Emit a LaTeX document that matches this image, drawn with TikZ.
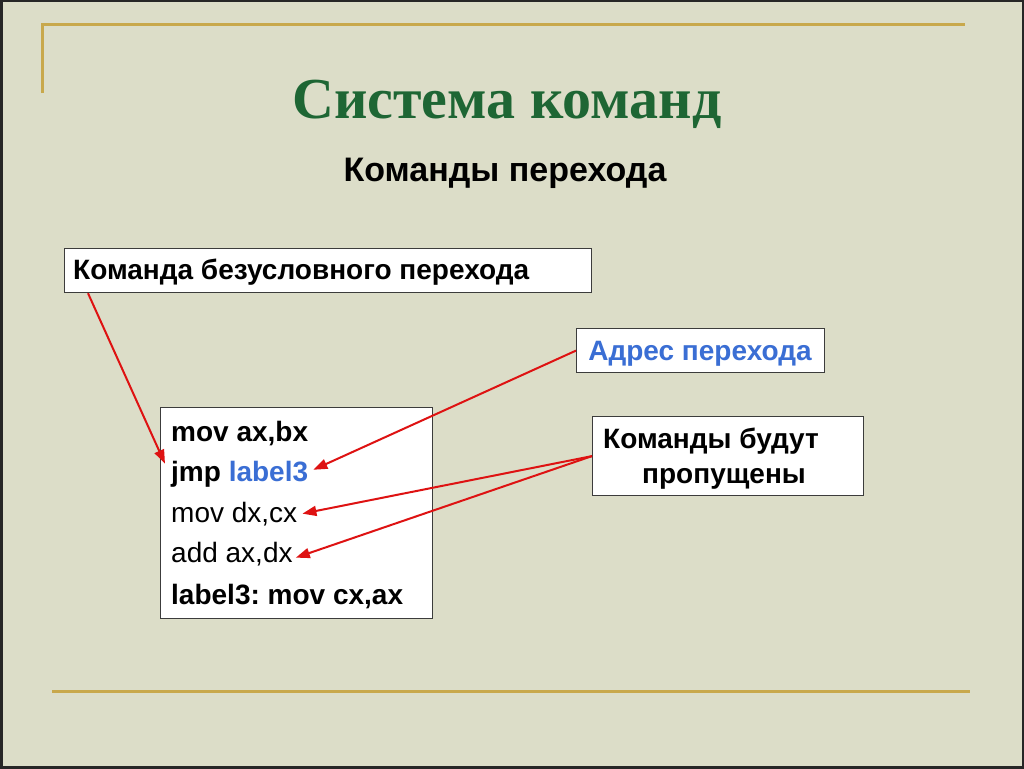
\documentclass[tikz,border=0pt]{standalone}
\usepackage{fontspec}
\setmainfont{Liberation Serif}
\setsansfont{Liberation Sans}
\usepackage{xcolor}
\usetikzlibrary{arrows.meta,positioning,calc}
\definecolor{slidebg}{RGB}{220,221,200}
\definecolor{goldline}{RGB}{200,168,76}
\definecolor{titlegreen}{RGB}{30,102,52}
\definecolor{addrblue}{RGB}{58,110,212}
\definecolor{arrowred}{RGB}{222,18,18}
\definecolor{boxline}{RGB}{60,60,60}
\frenchspacing
\tikzset{
  txt/.style = {font = \sffamily\fontsize{28}{33}\selectfont, inner sep = 0pt},
  boldtxt/.style = {txt, font = \sffamily\bfseries\fontsize{28}{33}\selectfont},
  box/.style = {draw = boxline, fill = white, line width = 1.2pt, inner sep = 0pt},
  jump/.style = {draw = arrowred, line width = 2pt, -{Triangle[length=14pt, width=10pt]}}
}

\begin{document}
\begin{tikzpicture}[x = 1pt, y = -1pt]
    \useasboundingbox (0,0) rectangle (1024,768);
    \fill[slidebg] (0,0) rectangle (1024,768);
    \draw[black!85, line width = 3pt] (1,1) rectangle (1023,767);
    % Gold frame lines
    \draw[goldline, line width = 3pt] (42,93) -- (42,25) -- (965,25);
    \draw[goldline, line width = 3pt] (52,691) -- (970,691);
    % Headings
    \node[anchor = base, text = titlegreen, inner sep = 0pt, font = \bfseries\fontsize{58}{64}\selectfont] (title) at (507,118) {Система команд};
    \node[anchor = base, boldtxt, font = \sffamily\bfseries\fontsize{34}{40}\selectfont] (subtitle) at (505,181) {Команды перехода};
    % Boxes
    \node[box, anchor = north west, minimum width = 527pt, minimum height = 44pt] (uncond) at (64,248) {};
    \node[boldtxt, anchor = base west] (uncondtxt) at (73,279) {Команда безусловного перехода};
    \node[box, anchor = north west, minimum width = 248pt, minimum height = 44pt] (addr) at (576,328) {};
    \node[boldtxt, text = addrblue, anchor = base] (addrtxt) at (700,360) {Адрес перехода};
    \node[box, anchor = north west, minimum width = 271pt, minimum height = 79pt] (skip) at (592,416) {};
    \node[boldtxt, anchor = base west, align = left, font = \sffamily\bfseries\fontsize{28}{35}\selectfont] (skiptxt) at (603,483) {Команды будут\\\hspace*{39pt}пропущены};
    % Code listing
    \node[box, anchor = north west, minimum width = 272pt, minimum height = 211pt] (code) at (160,407) {};
    \node[boldtxt, anchor = base west] (l1) at (171,441) {mov ax,bx};
    \node[boldtxt, anchor = base west] (l2) at (171,481) {jmp \textcolor{addrblue}{label3}};
    \node[txt, anchor = base west] (l3) at (171,522) {mov dx,cx};
    \node[txt, anchor = base west] (l4) at (171,562) {add ax,dx};
    \node[boldtxt, anchor = base west] (l5) at (171,604) {label3: mov cx,ax};
    % Arrows
    \coordinate (from1) at ($(uncond.south west)+(24,0)$);
    \draw[jump] (from1) -- ($(l2.west)+(-6,-10)$);
    \draw[jump] (addr.west) -- ($(l2.east)+(5,-4)$);
    \draw[jump] (skip.west) -- ($(l3.east)+(5,0)$);
    \draw[jump] (skip.west) -- ($(l4.east)+(3,4)$);
\end{tikzpicture}
\end{document}
